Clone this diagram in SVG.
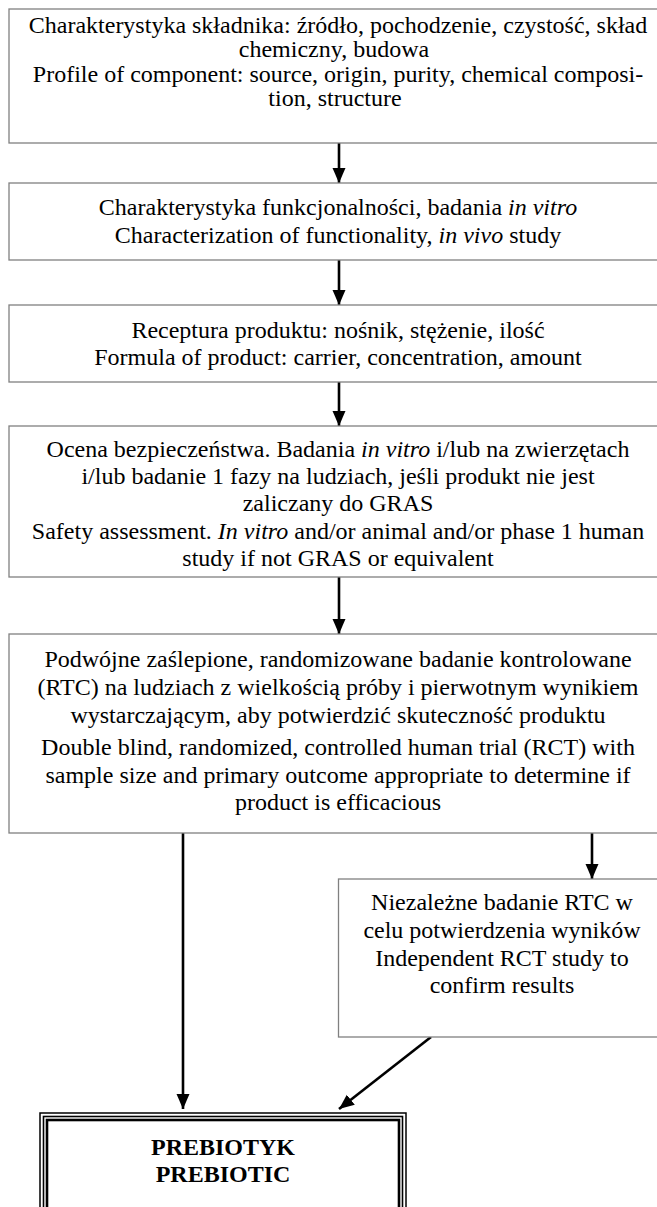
<svg xmlns="http://www.w3.org/2000/svg" width="657" height="1207" viewBox="0 0 657 1207">
<style>
.box{fill:#fff;stroke:#808080;stroke-width:1.3}
.t{font-family:"Liberation Serif","Times New Roman",serif;font-size:24px;fill:#000;text-anchor:middle}
.b{font-weight:bold}
.i{font-style:italic}
.c{stroke:#000;stroke-width:2.6;fill:none;marker-end:url(#ah)}
.fr{fill:none;stroke:#000}
</style>
<defs>
<marker id="ah" markerUnits="userSpaceOnUse" markerWidth="16" markerHeight="14" refX="15" refY="6.5" orient="auto">
<path d="M0,0 L15,6.5 L0,13 z" fill="#000"/>
</marker>
</defs>
<rect width="657" height="1207" fill="#fff"/>
<g id="connectors">
<line class="c" x1="339" y1="143" x2="339" y2="183"/>
<line class="c" x1="339" y1="260" x2="339" y2="305"/>
<line class="c" x1="339" y1="382" x2="339" y2="426"/>
<line class="c" x1="339" y1="577" x2="339" y2="634"/>
<line class="c" x1="183" y1="833" x2="183" y2="1109"/>
<line class="c" x1="592" y1="833" x2="592" y2="879"/>
<line class="c" x1="431" y1="1037" x2="339" y2="1109"/>
</g>
<g id="n1">
<rect class="box" x="9" y="9" width="680" height="134"/>
<text class="t" x="338" y="33">Charakterystyka składnika: źródło, pochodzenie, czystość, skład</text>
<text class="t" x="334" y="57">chemiczny, budowa</text>
<text class="t" x="338" y="82">Profile of component: source, origin, purity, chemical composi-</text>
<text class="t" x="335" y="106">tion, structure</text>
</g>
<g id="n2">
<rect class="box" x="9" y="183" width="680" height="77"/>
<text class="t" x="338" y="215">Charakterystyka funkcjonalności, badania <tspan class="i">in vitro</tspan></text>
<text class="t" x="338" y="243">Characterization of functionality, <tspan class="i">in vivo</tspan> study</text>
</g>
<g id="n3">
<rect class="box" x="9" y="305" width="680" height="77"/>
<text class="t" x="338" y="338">Receptura produktu: nośnik, stężenie, ilość</text>
<text class="t" x="338" y="365">Formula of product: carrier, concentration, amount</text>
</g>
<g id="n4">
<rect class="box" x="9" y="426" width="680" height="151"/>
<text class="t" x="338" y="457">Ocena bezpieczeństwa. Badania <tspan class="i">in vitro</tspan> i/lub na zwierzętach</text>
<text class="t" x="338" y="484">i/lub badanie 1 fazy na ludziach, jeśli produkt nie jest</text>
<text class="t" x="338" y="511">zaliczany do GRAS</text>
<text class="t" x="338" y="539">Safety assessment. <tspan class="i">In vitro</tspan> and/or animal and/or phase 1 human</text>
<text class="t" x="338" y="566">study if not GRAS or equivalent</text>
</g>
<g id="n5">
<rect class="box" x="9" y="634" width="680" height="199"/>
<text class="t" x="338" y="667">Podwójne zaślepione, randomizowane badanie kontrolowane</text>
<text class="t" x="338" y="695">(RTC) na ludziach z wielkością próby i pierwotnym wynikiem</text>
<text class="t" x="338" y="723">wystarczającym, aby potwierdzić skuteczność produktu</text>
<text class="t" x="338" y="755">Double blind, randomized, controlled human trial (RCT) with</text>
<text class="t" x="338" y="783">sample size and primary outcome appropriate to determine if</text>
<text class="t" x="338" y="810">product is efficacious</text>
</g>
<g id="n6">
<rect class="box" x="338.5" y="879" width="340" height="158"/>
<text class="t" x="502" y="910">Niezależne badanie RTC w</text>
<text class="t" x="502" y="938">celu potwierdzenia wyników</text>
<text class="t" x="502" y="966">Independent RCT study to</text>
<text class="t" x="502" y="993">confirm results</text>
</g>
<g id="n7">
<rect class="fr" x="40" y="1113" width="366" height="120" stroke-width="1.5" stroke="#555"/>
<rect class="fr" x="43.5" y="1116.5" width="359" height="120" stroke-width="1.6"/>
<rect class="fr" x="47" y="1120" width="352" height="120" stroke-width="2.6"/>
<text class="t b" x="223" y="1155">PREBIOTYK</text>
<text class="t b" x="223" y="1182">PREBIOTIC</text>
</g>
</svg>
